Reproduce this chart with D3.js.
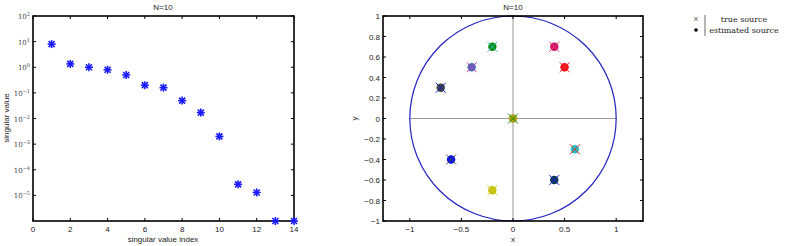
<!DOCTYPE html>
<html>
<head>
<meta charset="utf-8">
<script src="https://cdn.jsdelivr.net/npm/d3@7"></script>
<style>
  body { margin: 0; background: #fff; }
  svg { display: block; }
  text { font-family: 'Liberation Sans', Arial, sans-serif; font-size: 8px; fill: #222; }
  .serif { font-family: 'DejaVu Serif', 'Liberation Serif', serif; }
</style>
</head>
<body>
<svg id="chart" width="786" height="246"></svg>
<script>
// singular values (left panel)
const svIndex = [1, 2, 3, 4, 5, 6, 7, 8, 9, 10, 11, 12, 13, 14]
const svValues = [8, 1.35, 1.0, 0.8, 0.5, 0.2, 0.16, 0.05, 0.017, 0.002, 2.7e-5, 1.3e-5, 1e-6, 1e-6]
const svXTicks = [0, 2, 4, 6, 8, 10, 12, 14]
const svYExps = [-5, -4, -3, -2, -1, 0, 1, 2]

// sources (right panel)
const srcX = [-0.2, 0.4, -0.4, 0.5, -0.7, 0, 0.6, -0.6, -0.2, 0.4]
const srcY = [0.7, 0.7, 0.5, 0.5, 0.3, 0, -0.3, -0.4, -0.7, -0.6]
const estColors = ['#0a8a0a', '#d0106a', '#4a6ab8', '#ff1010', '#404040', '#b0a010', '#20c0c8', '#0010f0', '#c8c010', '#0a3a50']
const trueColors = ['#30c0c0', '#e04060', '#c040c0', '#e03040', '#1020c0', '#109010', '#e03020', '#505050', '#d0d020', '#2020d0']
const xyTicks = [-1, -0.5, 0, 0.5, 1]
const yTicks = [-1, -0.8, -0.6, -0.4, -0.2, 0, 0.2, 0.4, 0.6, 0.8, 1]

const svg = d3.select('#chart')
const fmt = (d) => String(d).replace('-', '\u2212')

const frame = (g, x0, x1, y0, y1) => {
  g.append('rect')
    .attr('x', x0).attr('y', y0)
    .attr('width', x1 - x0).attr('height', y1 - y0)
    .attr('fill', 'none').attr('stroke', '#000').attr('stroke-width', 1.6)
}

// ---- left panel: singular values
const left = svg.append('g')
const lx = d3.scaleLinear().domain([0, 14]).range([33, 294])
const ly = d3.scaleLog().domain([1e-6, 1e2]).range([221, 16])

frame(left, 33, 294, 16, 221)

svXTicks.forEach((t) => {
  left.append('line').attr('x1', lx(t)).attr('x2', lx(t)).attr('y1', 221).attr('y2', 218).attr('stroke', '#000')
  left.append('line').attr('x1', lx(t)).attr('x2', lx(t)).attr('y1', 16).attr('y2', 19).attr('stroke', '#000')
  left.append('text').attr('x', lx(t)).attr('y', 232).attr('text-anchor', 'middle').text(t)
})

svYExps.forEach((e) => {
  const yy = ly(Math.pow(10, e))
  left.append('line').attr('x1', 33).attr('x2', 36).attr('y1', yy).attr('y2', yy).attr('stroke', '#000')
  left.append('line').attr('x1', 294).attr('x2', 291).attr('y1', yy).attr('y2', yy).attr('stroke', '#000')
  const t = left.append('text').attr('class', 'serif').attr('x', 30).attr('y', yy + 3)
    .attr('text-anchor', 'end').style('font-size', '7px').style('fill', '#444')
  t.append('tspan').text('10')
  t.append('tspan').attr('dy', -3).style('font-size', '5px').text(e < 0 ? '\u2212' + (-e) : e)
})

left.append('text').attr('x', 163).attr('y', 10).attr('text-anchor', 'middle').text('N=10')
left.append('text').attr('x', 163).attr('y', 242).attr('text-anchor', 'middle').text('singular value index')
left.append('text').attr('transform', 'translate(9,118) rotate(-90)').attr('text-anchor', 'middle').text('singular value')

const star = left.selectAll('.star').data(svIndex).join('g')
  .attr('transform', (d, i) => `translate(${lx(d)},${ly(svValues[i])})`)
;[[-4, 0, 4, 0], [0, -4, 0, 4], [-3, -3, 3, 3], [-3, 3, 3, -3]].forEach((s) => {
  star.append('line').attr('x1', s[0]).attr('y1', s[1]).attr('x2', s[2]).attr('y2', s[3])
    .attr('stroke', '#1a1aff').attr('stroke-width', 1.6)
})

// ---- right panel: source locations
const right = svg.append('g')
const rx = d3.scaleLinear().domain([-1.26, 1.26]).range([383, 643])
const ry = d3.scaleLinear().domain([-1, 1]).range([221, 16])

// grey cross
right.append('line').attr('x1', rx(-1)).attr('x2', rx(1)).attr('y1', ry(0)).attr('y2', ry(0))
  .attr('stroke', '#999').attr('stroke-width', 1)
right.append('line').attr('x1', rx(0)).attr('x2', rx(0)).attr('y1', ry(-1)).attr('y2', ry(1))
  .attr('stroke', '#999').attr('stroke-width', 1)

// unit circle
right.append('ellipse')
  .attr('cx', rx(0)).attr('cy', ry(0))
  .attr('rx', rx(1) - rx(0)).attr('ry', ry(-1) - ry(0))
  .attr('fill', 'none').attr('stroke', '#2222c0').attr('stroke-width', 1.2)

frame(right, 383, 643, 16, 221)

xyTicks.forEach((t) => {
  right.append('line').attr('x1', rx(t)).attr('x2', rx(t)).attr('y1', 221).attr('y2', 218).attr('stroke', '#000')
  right.append('line').attr('x1', rx(t)).attr('x2', rx(t)).attr('y1', 16).attr('y2', 19).attr('stroke', '#000')
  right.append('text').attr('x', rx(t)).attr('y', 232).attr('text-anchor', 'middle').text(fmt(t))
})
yTicks.forEach((t) => {
  right.append('line').attr('x1', 383).attr('x2', 386).attr('y1', ry(t)).attr('y2', ry(t)).attr('stroke', '#000')
  right.append('line').attr('x1', 643).attr('x2', 640).attr('y1', ry(t)).attr('y2', ry(t)).attr('stroke', '#000')
  right.append('text').attr('x', 380).attr('y', ry(t) + 3).attr('text-anchor', 'end').text(fmt(t))
})

right.append('text').attr('x', rx(0)).attr('y', 10).attr('text-anchor', 'middle').text('N=10')
right.append('text').attr('x', rx(0)).attr('y', 242).attr('text-anchor', 'middle').text('x')
right.append('text').attr('transform', `translate(357,${ry(0)}) rotate(-90)`).attr('text-anchor', 'middle').text('y')

const src = right.selectAll('.src').data(srcX).join('g')
  .attr('transform', (d, i) => `translate(${rx(d)},${ry(srcY[i])})`)
src.append('circle').attr('r', 4.2).attr('fill', (d, i) => estColors[i])
;[[-5, -5, 5, 5], [-5, 5, 5, -5]].forEach((s) => {
  src.append('line').attr('x1', s[0]).attr('y1', s[1]).attr('x2', s[2]).attr('y2', s[3])
    .attr('stroke', (d, i) => trueColors[i]).attr('stroke-width', 1)
})

// ---- legend
const leg = svg.append('g')
leg.append('text').attr('x', 696).attr('y', 22).attr('text-anchor', 'middle').style('font-size', '9px').style('fill', '#666').text('\u00d7')
leg.append('circle').attr('cx', 696).attr('cy', 30).attr('r', 1.8).attr('fill', '#000')
leg.append('line').attr('x1', 705).attr('x2', 705).attr('y1', 15).attr('y2', 36).attr('stroke', '#444').attr('stroke-width', 0.8)
leg.append('text').attr('class', 'serif').attr('x', 744).attr('y', 22).attr('text-anchor', 'middle').style('font-size', '8px').text('true source')
leg.append('text').attr('class', 'serif').attr('x', 744).attr('y', 33).attr('text-anchor', 'middle').style('font-size', '8px').text('estimated source')
</script>
</body>
</html>
